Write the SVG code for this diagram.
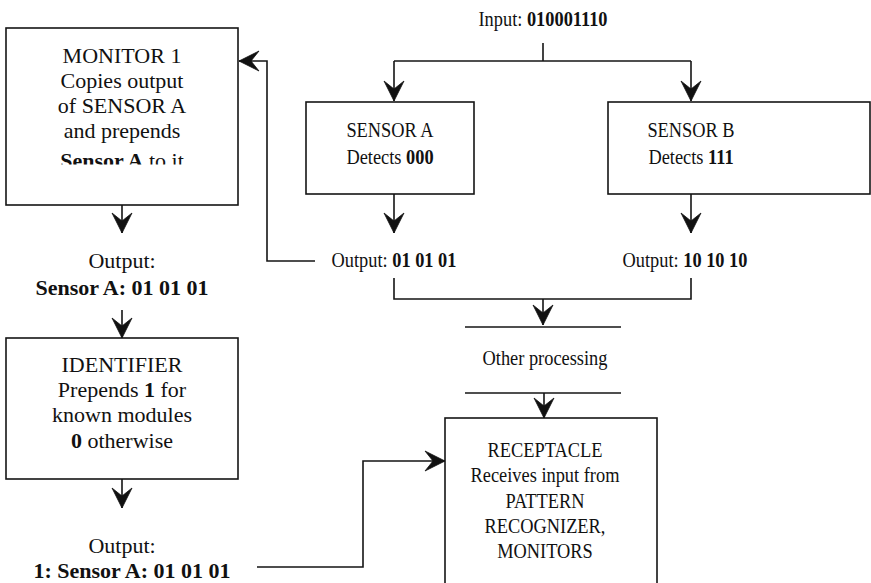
<svg xmlns="http://www.w3.org/2000/svg" width="871" height="583" viewBox="0 0 871 583">
<style>
.box{fill:#fff;stroke:#151515;stroke-width:1.6}
.ln{fill:none;stroke:#151515;stroke-width:1.6}
.t{font-family:"Liberation Serif","Times New Roman",serif;font-size:22px;fill:#111;text-anchor:middle}
.b{font-weight:bold}
</style>
<defs>
<marker id="ah" markerUnits="userSpaceOnUse" viewBox="-21 -11 22 22" refX="0" refY="0" markerWidth="22" markerHeight="22" orient="auto">
<path d="M0,0 L-20,-10 L-12,0 L-20,10 Z" fill="#111" stroke="#111" stroke-width="0.8" stroke-linejoin="miter"/>
</marker>
<clipPath id="mclip"><rect x="0" y="0" width="300" height="164.5"/></clipPath>
</defs>
<rect width="871" height="583" fill="#fff"/>

<g id="connectors">
<path class="ln" d="M543,43 V61"/>
<path class="ln" d="M394,61 H691"/>
<path class="ln" d="M394,61 V101" marker-end="url(#ah)"/>
<path class="ln" d="M691,61 V101" marker-end="url(#ah)"/>
<path class="ln" d="M394,194 V233" marker-end="url(#ah)"/>
<path class="ln" d="M691,194 V233" marker-end="url(#ah)"/>
<path class="ln" d="M315,261 H267 V61 H239" marker-end="url(#ah)"/>
<path class="ln" d="M394,278 V299 H691 V278"/>
<path class="ln" d="M543,299 V325" marker-end="url(#ah)"/>
<path class="ln" d="M465,327 H621"/>
<path class="ln" d="M465,393 H621"/>
<path class="ln" d="M544,393 V418" marker-end="url(#ah)"/>
<path class="ln" d="M122,205 V233" marker-end="url(#ah)"/>
<path class="ln" d="M122,310 V338" marker-end="url(#ah)"/>
<path class="ln" d="M122,479 V508" marker-end="url(#ah)"/>
<path class="ln" d="M257,567 H363 V461 H445" marker-end="url(#ah)"/>
</g>

<g id="input">
<text class="t" transform="translate(543 26) scale(0.835 1)">Input: <tspan class="b">010001110</tspan></text>
</g>

<g id="monitor1">
<rect class="box" x="6" y="28" width="232" height="177"/>
<text class="t" x="122" y="63">MONITOR 1</text>
<text class="t" x="122" y="88">Copies output</text>
<text class="t" x="122" y="113">of SENSOR A</text>
<text class="t" x="122" y="138">and prepends</text>
<text class="t" x="122" y="168" clip-path="url(#mclip)"><tspan class="b">Sensor A</tspan> to it</text>
</g>

<g id="monitor-output">
<text class="t" x="122" y="268">Output:</text>
<text class="t b" x="122" y="295">Sensor A: 01 01 01</text>
</g>

<g id="identifier">
<rect class="box" x="6" y="338" width="232" height="141"/>
<text class="t" x="122" y="372">IDENTIFIER</text>
<text class="t" x="122" y="397">Prepends <tspan class="b">1</tspan> for</text>
<text class="t" x="122" y="422">known modules</text>
<text class="t" x="122" y="448"><tspan class="b">0</tspan> otherwise</text>
</g>

<g id="identifier-output">
<text class="t" x="122" y="553">Output:</text>
<text class="t b" x="132" y="578">1: Sensor A: 01 01 01</text>
</g>

<g id="sensorA">
<rect class="box" x="306" y="102" width="168" height="92"/>
<text class="t" transform="translate(390 137) scale(0.835 1)">SENSOR A</text>
<text class="t" transform="translate(390 164) scale(0.835 1)">Detects <tspan class="b">000</tspan></text>
</g>

<g id="sensorB">
<rect class="box" x="608" y="102" width="262" height="92"/>
<text class="t" transform="translate(691 137) scale(0.835 1)">SENSOR B</text>
<text class="t" transform="translate(691 164) scale(0.835 1)">Detects <tspan class="b">111</tspan></text>
</g>

<g id="outputA">
<text class="t" transform="translate(394 267) scale(0.835 1)">Output: <tspan class="b">01 01 01</tspan></text>
</g>

<g id="outputB">
<text class="t" transform="translate(685 267) scale(0.835 1)">Output: <tspan class="b">10 10 10</tspan></text>
</g>

<g id="other-processing">
<text class="t" transform="translate(545 365) scale(0.835 1)">Other processing</text>
</g>

<g id="receptacle">
<rect class="box" x="445" y="418" width="212" height="180"/>
<text class="t" transform="translate(545 457) scale(0.835 1)">RECEPTACLE</text>
<text class="t" transform="translate(545 482) scale(0.835 1)">Receives input from</text>
<text class="t" transform="translate(545 508) scale(0.835 1)">PATTERN</text>
<text class="t" transform="translate(545 533) scale(0.835 1)">RECOGNIZER,</text>
<text class="t" transform="translate(545 558) scale(0.835 1)">MONITORS</text>
</g>
</svg>
